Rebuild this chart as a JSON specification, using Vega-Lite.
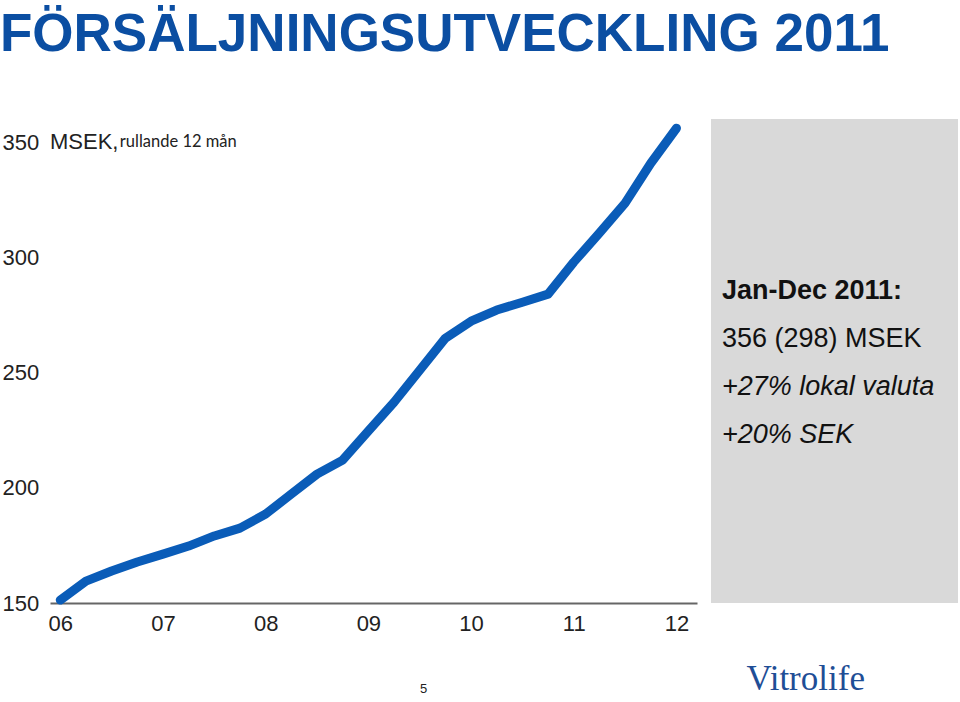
{
  "$schema": "https://vega.github.io/schema/vega-lite/v6.json",
  "padding": {"top": 9, "left": 0, "right": 0, "bottom": 0},
  "background": "white",
  "config": {"view": {"stroke": null}, "font": "Liberation Sans"},
  "title": {
    "text": "FÖRSÄLJNINGSUTVECKLING 2011",
    "anchor": "start",
    "font": "Liberation Sans",
    "fontSize": 53,
    "fontWeight": "bold",
    "color": "#0b4ea2",
    "offset": 57
  },
  "datasets": {
    "sales": [
      {"t": 2006.0, "msek": 151.3},
      {"t": 2006.25, "msek": 159.5},
      {"t": 2006.5, "msek": 163.9},
      {"t": 2006.75, "msek": 167.8},
      {"t": 2007.0, "msek": 171.2},
      {"t": 2007.25, "msek": 174.7},
      {"t": 2007.5, "msek": 179.1},
      {"t": 2007.75, "msek": 182.5},
      {"t": 2008.0, "msek": 188.6},
      {"t": 2008.25, "msek": 197.3},
      {"t": 2008.5, "msek": 205.9},
      {"t": 2008.75, "msek": 212.0},
      {"t": 2009.0, "msek": 224.6},
      {"t": 2009.25, "msek": 237.1},
      {"t": 2009.5, "msek": 251.0},
      {"t": 2009.75, "msek": 264.9},
      {"t": 2010.0, "msek": 272.3},
      {"t": 2010.25, "msek": 277.1},
      {"t": 2010.5, "msek": 280.5},
      {"t": 2010.75, "msek": 284.0},
      {"t": 2011.0, "msek": 297.9},
      {"t": 2011.25, "msek": 310.5},
      {"t": 2011.5, "msek": 323.5},
      {"t": 2011.75, "msek": 340.8},
      {"t": 2012.0, "msek": 356.0}
    ],
    "facts": [
      {"line": 1, "text": "Jan-Dec 2011:"},
      {"line": 2, "text": "356 (298) MSEK"},
      {"line": 3, "text": "+27% lokal valuta"},
      {"line": 4, "text": "+20% SEK"}
    ]
  },
  "hconcat": [
    {
      "width": 647,
      "height": 484,
      "data": {"name": "sales"},
      "encoding": {
        "x": {
          "field": "t",
          "type": "quantitative",
          "scale": {"domain": [2005.9, 2012.2], "nice": false, "zero": false},
          "axis": {
            "values": [2006, 2007, 2008, 2009, 2010, 2011, 2012],
            "labelExpr": "substring(toString(datum.value), 2)",
            "ticks": false,
            "tickSize": 0,
            "grid": false,
            "labelFlush": false,
            "labelPadding": 10,
            "labelFontSize": 22,
            "labelFont": "Liberation Sans",
            "labelColor": "#222222",
            "domainColor": "#666666",
            "domainWidth": 2,
            "title": "5",
            "titleFont": "Liberation Sans",
            "titleFontSize": 13,
            "titleFontWeight": "normal",
            "titleColor": "#222222",
            "titleX": 373,
            "titlePadding": 48
          }
        },
        "y": {
          "field": "msek",
          "type": "quantitative",
          "scale": {"domain": [150, 360], "nice": false, "zero": false},
          "axis": {
            "values": [150, 200, 250, 300, 350],
            "ticks": false,
            "tickSize": 0,
            "domain": false,
            "grid": false,
            "labelFlush": false,
            "labelAlign": "left",
            "labelBaseline": "middle",
            "labelPadding": 48,
            "labelFontSize": 22,
            "labelFont": "Liberation Sans",
            "labelColor": "#222222",
            "minExtent": 50,
            "maxExtent": 50,
            "title": null
          }
        }
      },
      "layer": [
        {
          "mark": {"type": "line", "color": "#0a5cb8", "strokeWidth": 9, "strokeCap": "round", "strokeJoin": "round", "clip": false}
        },
        {
          "transform": [{"filter": "datum.t == 2012"}],
          "mark": {"type": "text", "text": "MSEK,", "align": "left", "baseline": "middle", "fontSize": 22, "font": "Liberation Sans", "color": "#222222"},
          "encoding": {"x": {"datum": 2005.9}, "y": {"datum": 350}}
        },
        {
          "transform": [{"filter": "datum.t == 2012"}],
          "mark": {"type": "text", "text": "rullande 12 mån", "align": "left", "baseline": "middle", "fontSize": 16.5, "font": "Lato", "color": "#222222"},
          "encoding": {"x": {"datum": 2006.58}, "y": {"datum": 350}}
        }
      ]
    },
    {
      "width": 247,
      "height": 484,
      "view": {"fill": "#d9d9d9", "stroke": null},
      "data": {"name": "facts"},
      "encoding": {
        "x": {
          "datum": 0,
          "type": "quantitative",
          "scale": {"domain": [-11, 236], "nice": false, "zero": false},
          "axis": {
            "labels": false,
            "ticks": false,
            "domain": false,
            "grid": false,
            "title": "Vitrolife",
            "titleFont": "Liberation Serif",
            "titleFontSize": 35,
            "titleFontWeight": "normal",
            "titleColor": "#1f4e96",
            "titleAlign": "left",
            "titleX": 35,
            "titlePadding": 58
          }
        },
        "y": {
          "field": "line",
          "type": "quantitative",
          "scale": {"domain": [-2.75, 7.3333], "reverse": true, "nice": false, "zero": false},
          "axis": null
        },
        "text": {"field": "text"}
      },
      "layer": [
        {
          "transform": [{"filter": "datum.line == 1"}],
          "mark": {"type": "text", "align": "left", "baseline": "alphabetic", "fontSize": 27, "fontWeight": "bold", "font": "Liberation Sans", "color": "#111111"}
        },
        {
          "transform": [{"filter": "datum.line == 2"}],
          "mark": {"type": "text", "align": "left", "baseline": "alphabetic", "fontSize": 27, "font": "Liberation Sans", "color": "#111111"}
        },
        {
          "transform": [{"filter": "datum.line >= 3"}],
          "mark": {"type": "text", "align": "left", "baseline": "alphabetic", "fontSize": 27, "fontStyle": "italic", "font": "Liberation Sans", "color": "#111111"}
        }
      ]
    }
  ],
  "spacing": 14
}
